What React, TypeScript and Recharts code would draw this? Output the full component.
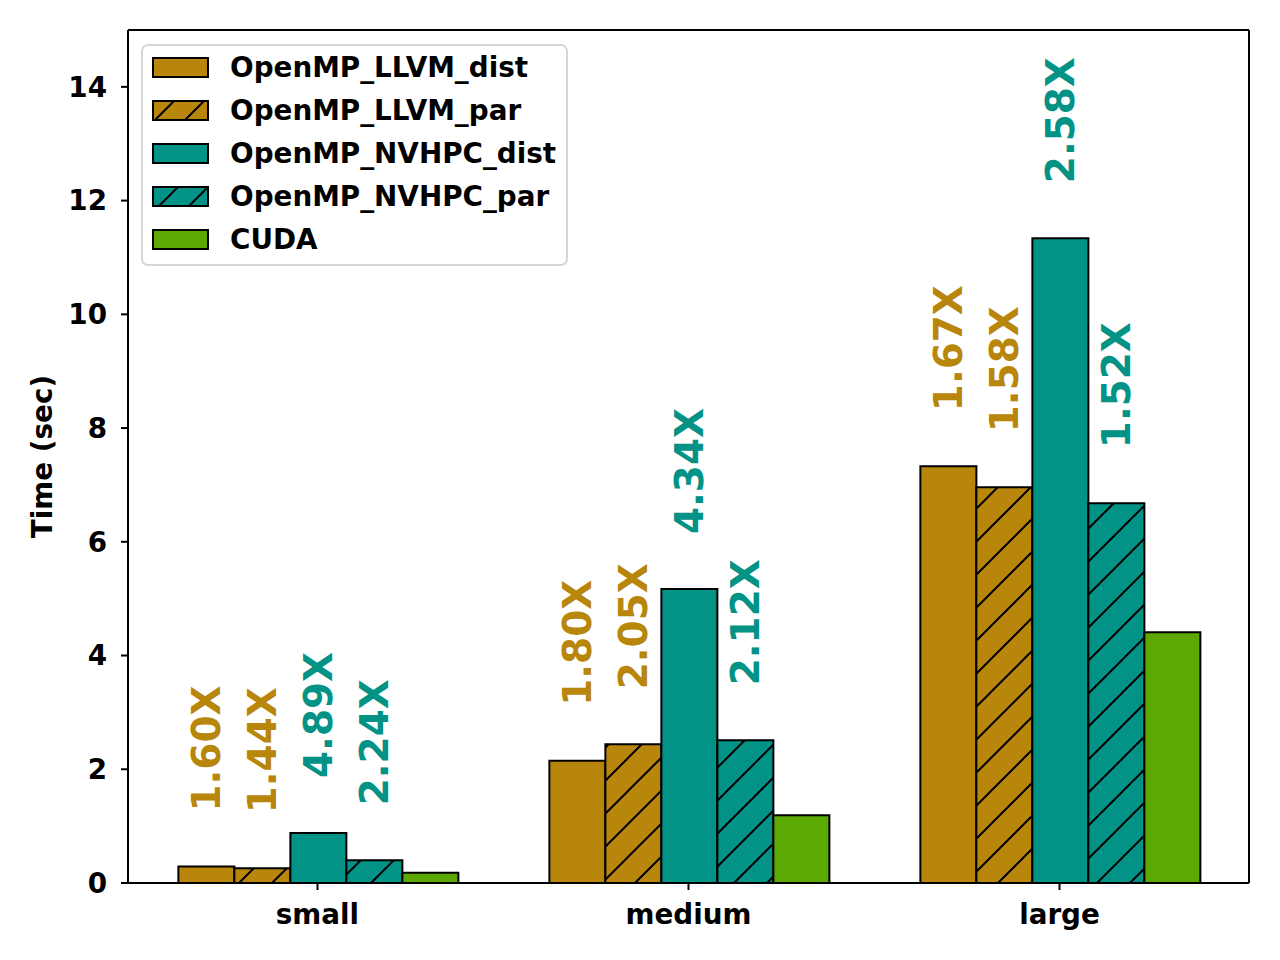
import React from 'react';
import { BarChart, Bar, XAxis, YAxis, Legend, LabelList, Label } from 'recharts';

const categories = ['small', 'medium', 'large'];

const llvmDist = [0.29, 2.15, 7.33];
const llvmPar = [0.26, 2.44, 6.96];
const nvhpcDist = [0.88, 5.17, 11.34];
const nvhpcPar = [0.4, 2.51, 6.68];
const cuda = [0.18, 1.19, 4.41];

const llvmDistLabels = ['1.60X', '1.80X', '1.67X'];
const llvmParLabels = ['1.44X', '2.05X', '1.58X'];
const nvhpcDistLabels = ['4.89X', '4.34X', '2.58X'];
const nvhpcParLabels = ['2.24X', '2.12X', '1.52X'];

const yTicks = [0, 2, 4, 6, 8, 10, 12, 14];

const GOLD = '#b8860b';
const TEAL = '#029386';
const GREEN = '#5ca904';
const FONT = '"DejaVu Sans", sans-serif';
const FS = 27.8;

const series = [
  { key: 'llvmDist', name: 'OpenMP_LLVM_dist', color: GOLD, hatch: false, labels: llvmDistLabels },
  { key: 'llvmPar', name: 'OpenMP_LLVM_par', color: GOLD, hatch: true, labels: llvmParLabels },
  { key: 'nvhpcDist', name: 'OpenMP_NVHPC_dist', color: TEAL, hatch: false, labels: nvhpcDistLabels },
  { key: 'nvhpcPar', name: 'OpenMP_NVHPC_par', color: TEAL, hatch: true, labels: nvhpcParLabels },
  { key: 'cuda', name: 'CUDA', color: GREEN, hatch: false, labels: null as string[] | null },
];

const values: Record<string, number[]> = { llvmDist, llvmPar, nvhpcDist, nvhpcPar, cuda };

const data = categories.map((category, i) => {
  const row: Record<string, any> = { category };
  series.forEach((s) => {
    row[s.key] = values[s.key][i];
    if (s.labels) row[s.key + 'Label'] = s.labels[i];
  });
  return row;
});

const hatchId = (color: string, prefix: string) => `${prefix}-${color.slice(1)}`;

function HatchPattern({ id, color, size }: { id: string; color: string; size: number }) {
  return (
    <pattern id={id} patternUnits="userSpaceOnUse" width={size} height={size}>
      <rect width={size} height={size} fill={color} />
      <path
        d={`M0,${size} L${size},0 M${-size / 2},${size / 2} L${size / 2},${-size / 2} M${size / 2},${size * 1.5} L${size * 1.5},${size / 2}`}
        stroke="#000"
        strokeWidth={2}
      />
    </pattern>
  );
}

const makeLabel = (color: string) => (props: any) => {
  const { x, y, width, value } = props;
  const cx = Number(x) + Number(width) / 2;
  const ty = Number(y) - 55;
  return (
    <text
      x={cx}
      y={ty}
      dy="0.36em"
      transform={`rotate(-90, ${cx}, ${ty})`}
      fill={color}
      fontSize={38.9}
      fontWeight="bold"
      fontFamily={FONT}
      textAnchor="start"
    >
      {value}
    </text>
  );
};

function LegendBox() {
  const rowH = 43;
  return (
    <svg width={427} height={222} style={{ display: 'block' }}>
      <defs>
        <HatchPattern id={hatchId(GOLD, 'lg')} color={GOLD} size={30} />
        <HatchPattern id={hatchId(TEAL, 'lg')} color={TEAL} size={30} />
      </defs>
      <rect x={1} y={1} width={425} height={220} rx={6} ry={6} fill="rgba(255,255,255,0.8)" stroke="#d6d6d6" strokeWidth={2} />
      {series.map((s, i) => {
        const cy = 23 + i * rowH;
        return (
          <g key={s.key}>
            <rect
              x={12}
              y={cy - 9}
              width={55}
              height={19}
              fill={s.hatch ? `url(#${hatchId(s.color, 'lg')})` : s.color}
              stroke="#000"
              strokeWidth={2}
            />
            <text x={89} y={cy} dy="0.36em" fontSize={FS} fontWeight="bold" fontFamily={FONT} fill="#000">
              {s.name}
            </text>
          </g>
        );
      })}
    </svg>
  );
}

const YLabel = (props: any) => {
  const { viewBox } = props;
  const x = 42;
  const y = viewBox.y + viewBox.height / 2;
  return (
    <text
      x={x}
      y={y}
      transform={`rotate(-90, ${x}, ${y})`}
      textAnchor="middle"
      dominantBaseline="central"
      fontSize={FS}
      fontWeight="bold"
      fontFamily={FONT}
      fill="#000"
    >
      Time (sec)
    </text>
  );
};

export default function App() {
  const tickStyle = { fontSize: FS, fontWeight: 'bold' as const, fontFamily: FONT, fill: '#000' };
  return (
    <div style={{ position: 'absolute', left: 0, top: 0, width: 1280, height: 960, background: '#fff' }}>
      <BarChart
        width={1280}
        height={960}
        data={data}
        margin={{ top: 29, right: 30, bottom: 0, left: 0 }}
        barCategoryGap="12.5%"
        barGap={0}
      >
        <defs>
          <HatchPattern id={hatchId(GOLD, 'bar')} color={GOLD} size={33} />
          <HatchPattern id={hatchId(TEAL, 'bar')} color={TEAL} size={33} />
        </defs>
        <XAxis
          dataKey="category"
          height={77}
          padding={{ left: 4, right: 4 }}
          tick={tickStyle}
          tickSize={7}
          tickMargin={14}
          tickLine={{ stroke: '#000', strokeWidth: 2 }}
          axisLine={{ stroke: '#000', strokeWidth: 2 }}
        />
        <XAxis
          xAxisId="top"
          dataKey="category"
          orientation="top"
          height={1}
          tick={false}
          tickLine={false}
          axisLine={{ stroke: '#000', strokeWidth: 2 }}
        />
        <YAxis
          width={128}
          domain={[0, 15]}
          ticks={yTicks}
          interval={0}
          tick={tickStyle}
          tickSize={7}
          tickMargin={14}
          tickLine={{ stroke: '#000', strokeWidth: 2 }}
          axisLine={{ stroke: '#000', strokeWidth: 2 }}
        >
          <Label content={<YLabel />} />
        </YAxis>
        <YAxis
          yAxisId="right"
          orientation="right"
          width={1}
          domain={[0, 15]}
          tick={false}
          tickLine={false}
          axisLine={{ stroke: '#000', strokeWidth: 2 }}
        />
        <Legend
          layout="vertical"
          align="center"
          verticalAlign="middle"
          wrapperStyle={{ left: 141, top: 44, width: 427, height: 222 }}
          content={() => <LegendBox />}
        />
        {series.map((s) => (
          <Bar
            key={s.key}
            dataKey={s.key}
            name={s.name}
            fill={s.hatch ? `url(#${hatchId(s.color, 'bar')})` : s.color}
            stroke="#000"
            strokeWidth={2}
            isAnimationActive={false}
          >
            {s.labels && <LabelList dataKey={s.key + 'Label'} content={makeLabel(s.color)} />}
          </Bar>
        ))}
      </BarChart>
    </div>
  );
}
